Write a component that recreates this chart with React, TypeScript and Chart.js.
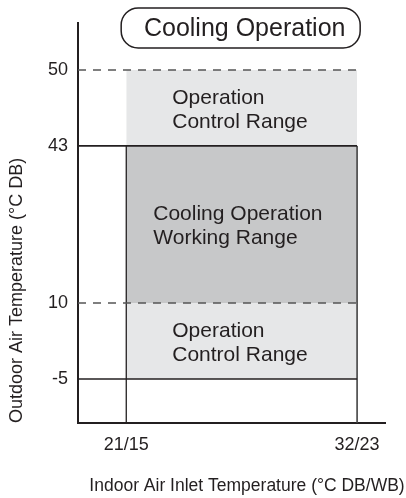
import React, { useEffect, useRef } from 'react';
import { Chart, registerables } from 'chart.js';

Chart.register(...registerables);

// ---- data ----
const yLevels = [-5, 10, 43, 50]; // outdoor air temperature, °C DB
const ySlots = [0, 1, 3.07, 4.07]; // schematic (non-proportional) axis slot of each level
const yTickLabels = ['-5', '10', '43', '50'];
const xDB = [21, 32]; // indoor DB
const xWB = [15, 23]; // indoor WB
const xTickLabels = xDB.map((d, i) => `${d}/${xWB[i]}`);
const titleText = 'Cooling Operation';
const upperText = ['Operation', 'Control Range'];
const middleText = ['Cooling Operation', 'Working Range'];
const lowerText = ['Operation', 'Control Range'];
const xTitle = 'Indoor Air Inlet Temperature (°C DB/WB)';
const yTitle = 'Outdoor Air Temperature (°C DB)';

// ---- scale ranges ----
const X_MIN = 18.7;
const X_MAX = 33.33;
const Y_MIN = -0.58;
const Y_MAX = 4.69;

const slot = (t: number) => ySlots[yLevels.indexOf(t)];

const FONT = "'Liberation Sans', Arial, Helvetica, sans-serif";
const INK = '#231f20';
const LIGHT = '#e6e7e8';
const DARK = '#c7c8c9';
const DASH = '#555555';

const decor = {
  id: 'decor',
  afterDatasetsDraw(chart: any) {
    const { ctx, scales } = chart;
    const x = scales.x;
    const y = scales.y;
    ctx.save();
    ctx.fillStyle = INK;
    ctx.textBaseline = 'middle';
    ctx.textAlign = 'left';
    ctx.font = `21px ${FONT}`;
    const xl = x.getPixelForValue(xDB[0]);
    const blocks: [string[], number, number, number][] = [
      [upperText, 50, 43, 46],
      [middleText, 43, 10, 27],
      [lowerText, 10, -5, 46],
    ];
    blocks.forEach(([lines, t0, t1, off]) => {
      const cy = (y.getPixelForValue(slot(t0)) + y.getPixelForValue(slot(t1))) / 2 + 2;
      const gap = 24;
      lines.forEach((s, i) => {
        ctx.fillText(s, xl + off, cy + (i - (lines.length - 1) / 2) * gap);
      });
    });
    ctx.restore();
  },
  afterDraw(chart: any) {
    const { ctx, scales } = chart;
    const x = scales.x;
    const cx = (x.getPixelForValue(xDB[0]) + x.getPixelForValue(xDB[1])) / 2;
    ctx.save();
    // title pill
    const w = 239, h = 40, top = 8, r = 17;
    const left = cx - w / 2 - 1;
    ctx.beginPath();
    ctx.roundRect(left, top, w, h, r);
    ctx.lineWidth = 1.5;
    ctx.strokeStyle = INK;
    ctx.stroke();
    ctx.fillStyle = INK;
    ctx.font = `25px ${FONT}`;
    ctx.textAlign = 'center';
    ctx.textBaseline = 'middle';
    ctx.fillText(titleText, cx + 3, top + h / 2 + 1);
    // x axis title
    ctx.font = `17.5px ${FONT}`;
    ctx.fillText(xTitle, 247, 486);
    ctx.restore();
  },
};

export default function App() {
  const ref = useRef<HTMLCanvasElement | null>(null);
  useEffect(() => {
    if (!ref.current) return;
    Chart.defaults.font.family = FONT;
    const hLine = (t: number, dashed: boolean, width: number, color: string) => ({
      data: [
        { x: X_MIN, y: slot(t) },
        { x: xDB[1], y: slot(t) },
      ],
      borderColor: color,
      borderWidth: width,
      borderDash: dashed ? [8, 7] : [],
      pointRadius: 0,
      fill: false,
      order: 1,
    });
    const vLine = (xv: number, width: number, color: string) => ({
      data: [
        { x: xv, y: slot(43) },
        { x: xv, y: Y_MIN },
      ],
      borderColor: color,
      borderWidth: width,
      pointRadius: 0,
      fill: false,
      order: 1,
    });
    const band = (t0: number, t1: number, color: string) => ({
      data: [
        { x: xDB[0], y: slot(t0) },
        { x: xDB[1], y: slot(t0) },
      ],
      borderWidth: 0,
      borderColor: 'rgba(0,0,0,0)',
      backgroundColor: color,
      pointRadius: 0,
      fill: { value: slot(t1) },
      order: 2,
    });
    const chart = new Chart(ref.current, {
      type: 'line',
      data: {
        datasets: [
          band(50, 43, LIGHT),
          band(43, 10, DARK),
          band(10, -5, LIGHT),
          hLine(50, true, 1.5, DASH),
          hLine(10, true, 1.5, DASH),
          hLine(43, false, 1.8, INK),
          hLine(-5, false, 1.3, INK),
          vLine(xDB[0], 1.3, INK),
          vLine(xDB[1], 1.6, '#444444'),
        ] as any,
      },
      options: {
        responsive: false,
        animation: false,
        layout: { padding: { top: 23, right: 21, left: 0, bottom: 0 } },
        plugins: { legend: { display: false }, tooltip: { enabled: false } },
        scales: {
          x: {
            type: 'linear',
            min: X_MIN,
            max: X_MAX,
            grid: { display: false, drawTicks: false },
            border: { display: true, color: INK, width: 2 },
            afterBuildTicks: (s: any) => {
              s.ticks = xDB.map((v) => ({ value: v }));
            },
            ticks: {
              padding: 11,
              color: INK,
              font: { size: 18 },
              maxRotation: 0,
              callback: (_v: any, i: number) => xTickLabels[i],
            },
            afterFit: (s: any) => {
              s.height = 75;
            },
          },
          y: {
            type: 'linear',
            min: Y_MIN,
            max: Y_MAX,
            grid: { display: false, drawTicks: false },
            border: { display: true, color: INK, width: 2 },
            afterBuildTicks: (s: any) => {
              s.ticks = ySlots.map((v) => ({ value: v }));
            },
            ticks: {
              padding: 10,
              color: INK,
              font: { size: 18 },
              callback: (_v: any, i: number) => yTickLabels[i],
            },
            title: {
              display: true,
              text: yTitle,
              align: 'start',
              color: INK,
              font: { size: 18 },
              padding: { top: 6, bottom: 0 },
            },
            afterFit: (s: any) => {
              s.width = 78;
            },
          },
        },
      } as any,
      plugins: [decor],
    });
    return () => chart.destroy();
  }, []);
  return (
    <div style={{ position: 'absolute', left: 0, top: 0, width: 406, height: 498 }}>
      <canvas ref={ref} width={406} height={498} style={{ display: 'block' }} />
    </div>
  );
}
